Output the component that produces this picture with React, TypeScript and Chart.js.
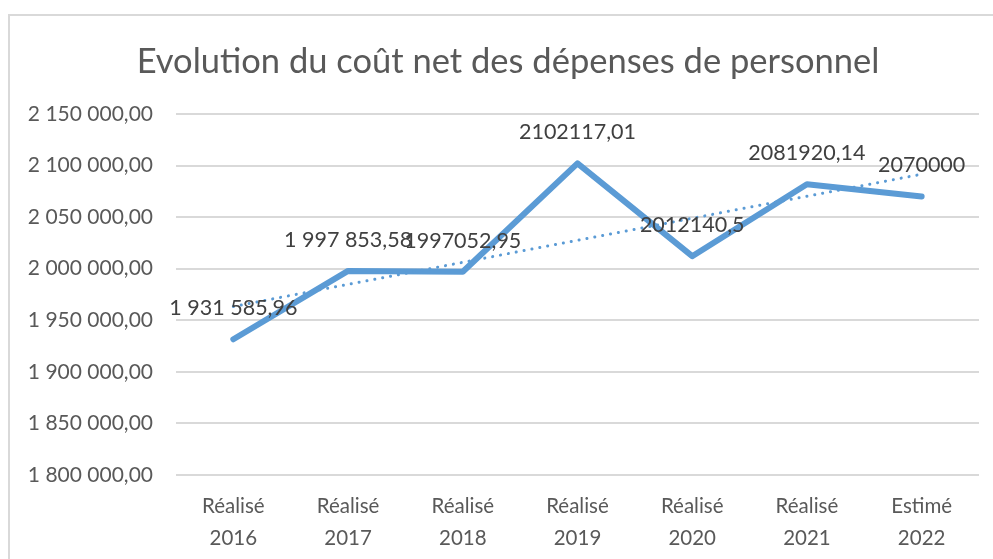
import React, { useEffect, useRef } from 'react';
import { Chart, registerables } from 'chart.js';

Chart.register(...registerables);

const TITLE = 'Evolution du coût net des dépenses de personnel';

const categories: string[][] = [
  ['Réalisé', '2016'],
  ['Réalisé', '2017'],
  ['Réalisé', '2018'],
  ['Réalisé', '2019'],
  ['Réalisé', '2020'],
  ['Réalisé', '2021'],
  ['Estimé', '2022'],
];

const costValues: number[] = [1931585.96, 1997853.58, 1997052.95, 2102117.01, 2012140.5, 2081920.14, 2070000];

const valueLabels: string[] = [
  '1 931 585,96',
  '1 997 853,58',
  '1997052,95',
  '2102117,01',
  '2012140,5',
  '2081920,14',
  '2070000',
];

// Linear trend line at each category
const trendValues: number[] = [1963400, 1984800, 2006200, 2027500, 2048900, 2070300, 2091600];

const Y_MIN = 1800000;
const Y_MAX = 2150000;
const Y_STEP = 50000;

const FONT = 'Lato, "Open Sans", sans-serif';
const BLUE = '#5B9BD5';
const TEXT_GREY = '#595959';

// Title placement (canvas coordinates)
const TITLE_CENTER_X = 500;
const TITLE_CENTER_Y = 62;
const TITLE_SIZE = 34.5;

function formatTick(v: number): string {
  const [i, d] = v.toFixed(2).split('.');
  return i.replace(/\B(?=(\d{3})+(?!\d))/g, ' ') + ',' + d;
}

const titlePlugin = {
  id: 'customTitle',
  afterDraw(chart: any) {
    const ctx = chart.ctx;
    ctx.save();
    ctx.font = `${TITLE_SIZE}px ${FONT}`;
    ctx.fillStyle = TEXT_GREY;
    ctx.textAlign = 'center';
    ctx.textBaseline = 'middle';
    ctx.fillText(TITLE, TITLE_CENTER_X, TITLE_CENTER_Y);
    ctx.restore();
  },
};

const valueLabelPlugin = {
  id: 'valueLabels',
  afterDatasetsDraw(chart: any) {
    const meta = chart.getDatasetMeta(0);
    const ctx = chart.ctx;
    ctx.save();
    ctx.font = `21.5px ${FONT}`;
    ctx.fillStyle = '#404040';
    ctx.textAlign = 'center';
    ctx.textBaseline = 'middle';
    meta.data.forEach((pt: any, i: number) => {
      ctx.fillText(valueLabels[i], pt.x, pt.y - 31);
    });
    ctx.restore();
  },
};

export default function App() {
  const canvasRef = useRef<HTMLCanvasElement | null>(null);

  useEffect(() => {
    let chart: Chart | null = null;
    let cancelled = false;
    const make = () => {
      if (cancelled || !canvasRef.current) return;
      chart = new Chart(canvasRef.current, {
        type: 'line',
        data: {
          labels: categories,
          datasets: [
            {
              label: 'Coût net',
              data: costValues,
              borderColor: BLUE,
              borderWidth: 6,
              borderJoinStyle: 'round',
              borderCapStyle: 'round',
              pointRadius: 0,
              fill: false,
              tension: 0,
              order: 1,
            },
            {
              label: 'Tendance',
              data: trendValues,
              borderColor: BLUE,
              borderWidth: 3,
              borderDash: [0.1, 7.9],
              borderCapStyle: 'round',
              pointRadius: 0,
              fill: false,
              tension: 0,
              order: 0,
            },
          ],
        },
        options: {
          responsive: false,
          animation: false,
          layout: { padding: { left: 10, right: 14, top: 114, bottom: 0 } },
          plugins: {
            legend: { display: false },
            tooltip: { enabled: false },
            title: { display: false },
          },
          scales: {
            x: {
              offset: true,
              grid: { display: false, drawTicks: false, offset: true },
              border: { display: false },
              ticks: {
                color: TEXT_GREY,
                font: { family: FONT, size: 20.5, lineHeight: 1.58 },
                padding: 15,
                maxRotation: 0,
                autoSkip: false,
              },
              afterFit: (scale: any) => {
                scale.height = 84;
              },
            },
            y: {
              min: Y_MIN,
              max: Y_MAX,
              grid: { color: '#d9d9d9', lineWidth: 2, drawTicks: false },
              border: { display: false },
              ticks: {
                stepSize: Y_STEP,
                color: TEXT_GREY,
                font: { family: FONT, size: 21 },
                padding: 23,
                callback: (v: any) => formatTick(Number(v)),
              },
              afterFit: (scale: any) => {
                scale.width = 158;
              },
            },
          },
        },
        plugins: [valueLabelPlugin, titlePlugin],
      });
    };
    const fontsApi = (document as any).fonts;
    if (fontsApi && fontsApi.load) {
      Promise.all([fontsApi.load(`21px Lato`), fontsApi.load(`34px Lato`)]).then(make, make);
    } else {
      make();
    }
    return () => {
      cancelled = true;
      if (chart) chart.destroy();
    };
  }, []);

  return (
    <div>
      <div
        style={{
          position: 'fixed',
          left: 8,
          top: 14,
          width: 985,
          height: 545,
          borderTop: '2px solid #d9d9d9',
          borderLeft: '2px solid #d9d9d9',
          boxSizing: 'border-box',
          background: '#fff',
        }}
      />
      <canvas
        ref={canvasRef}
        width={985}
        height={559}
        style={{ position: 'fixed', left: 8, top: 0, width: 985, height: 559 }}
      />
    </div>
  );
}
